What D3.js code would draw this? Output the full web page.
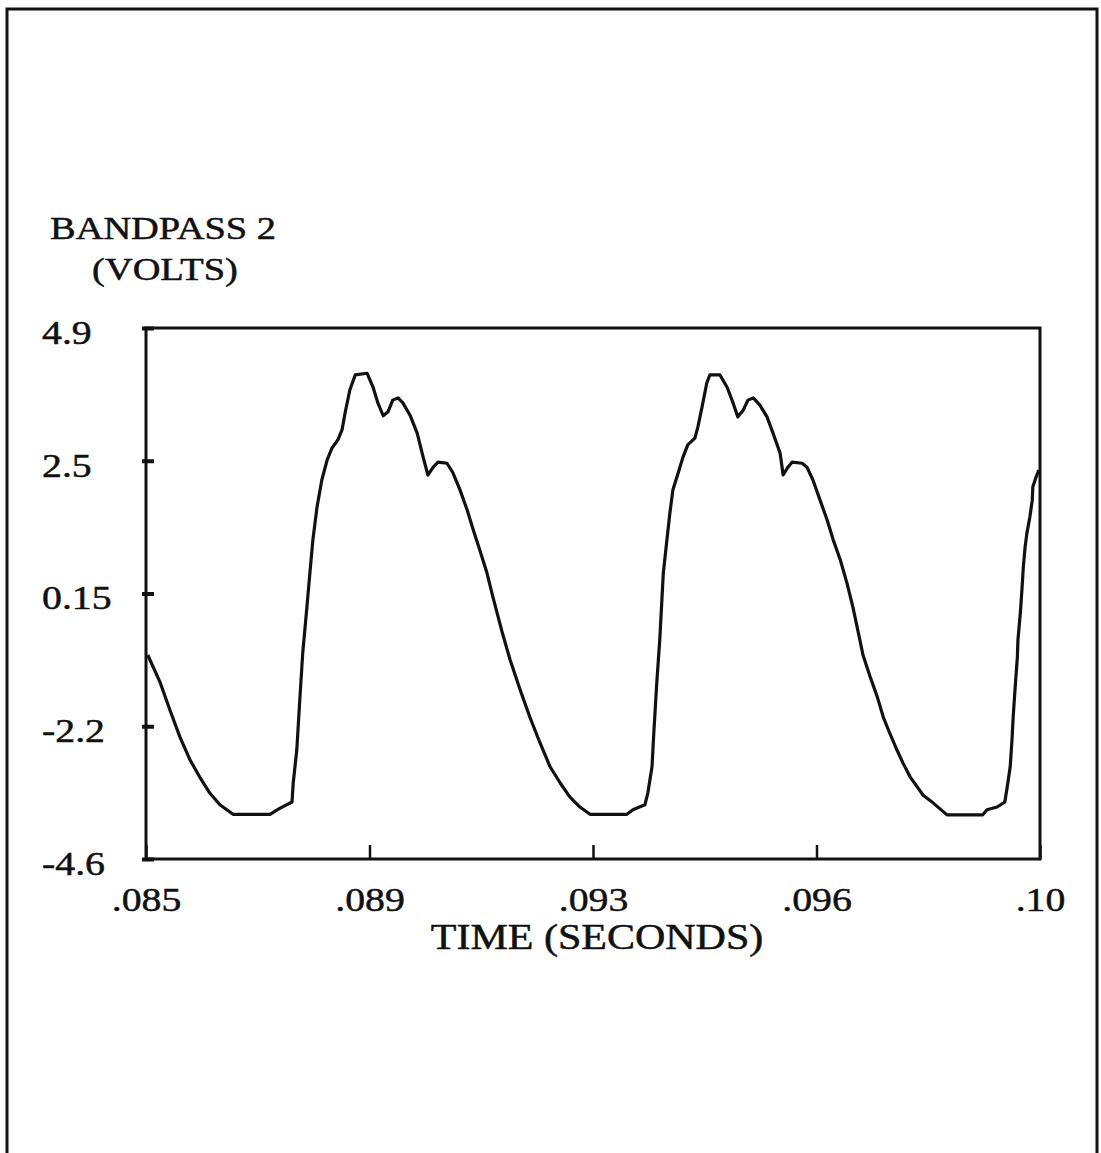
<!DOCTYPE html>
<html>
<head>
<meta charset="utf-8">
<script src="https://cdn.jsdelivr.net/npm/d3@7"></script>
<style>
  html, body { margin: 0; padding: 0; background: #fff; }
  svg { display: block; }
  text { font-family: "Liberation Serif", "Times New Roman", serif; fill: #111; stroke: #111; stroke-width: 0.5px; }
</style>
</head>
<body>
<svg id="chart" width="1101" height="1153"></svg>
<script>
// ---- data (time in seconds, voltage in volts) ----
const timeSec = [
  0.08503, 0.08524, 0.08540, 0.08557, 0.08574, 0.08591, 0.08607, 0.08624, 0.08646, 0.08708,
  0.08725, 0.08745, 0.08747, 0.08753, 0.08758, 0.08763, 0.08770, 0.08775, 0.08780, 0.08787,
  0.08795, 0.08804, 0.08812, 0.08822, 0.08829, 0.08834, 0.08842, 0.08851, 0.08871, 0.08881,
  0.08889, 0.08898, 0.08906, 0.08914, 0.08923, 0.08931, 0.08943, 0.08955, 0.08965, 0.08973,
  0.08982, 0.08990, 0.09005, 0.09015, 0.09027, 0.09039, 0.09049, 0.09060, 0.09072, 0.09082,
  0.09097, 0.09111, 0.09128, 0.09144, 0.09161, 0.09178, 0.09195, 0.09211, 0.09228, 0.09245,
  0.09307, 0.09317, 0.09337, 0.09342, 0.09349, 0.09352, 0.09357, 0.09362, 0.09368, 0.09374,
  0.09379, 0.09384, 0.09393, 0.09401, 0.09409, 0.09421, 0.09426, 0.09433, 0.09441, 0.09446,
  0.09463, 0.09475, 0.09485, 0.09493, 0.09502, 0.09510, 0.09519, 0.09530, 0.09542, 0.09552,
  0.09564, 0.09569, 0.09577, 0.09584, 0.09601, 0.09609, 0.09619, 0.09631, 0.09643, 0.09653,
  0.09665, 0.09676, 0.09686, 0.09695, 0.09703, 0.09715, 0.09727, 0.09737, 0.09748, 0.09760,
  0.09770, 0.09782, 0.09794, 0.09804, 0.09821, 0.09844, 0.09904, 0.09911, 0.09928, 0.09941,
  0.09945, 0.09950, 0.09953, 0.09955, 0.09958, 0.09962, 0.09963, 0.09967, 0.09970, 0.09972,
  0.09975, 0.09978, 0.09983, 0.09987, 0.09988, 0.09993, 0.09998
];
const voltage = [
  -0.95, -1.45, -1.93, -2.42, -2.83, -3.15, -3.42, -3.63, -3.80, -3.80,
  -3.69, -3.58, -3.24, -2.65, -1.76, -0.91, -0.09, 0.52, 1.11, 1.70,
  2.18, 2.54, 2.75, 2.90, 3.08, 3.38, 3.79, 4.06, 4.09, 3.84,
  3.56, 3.33, 3.40, 3.61, 3.65, 3.56, 3.34, 3.02, 2.59, 2.27,
  2.41, 2.50, 2.48, 2.31, 2.00, 1.64, 1.29, 0.93, 0.52, 0.09,
  -0.52, -1.04, -1.58, -2.06, -2.52, -2.95, -3.24, -3.49, -3.67, -3.80,
  -3.80, -3.72, -3.63, -3.42, -2.95, -2.35, -1.45, -0.68, 0.52, 1.11,
  1.59, 2.00, 2.31, 2.59, 2.81, 2.93, 3.13, 3.49, 3.92, 4.06,
  4.06, 3.84, 3.56, 3.31, 3.43, 3.61, 3.65, 3.52, 3.31, 3.02,
  2.66, 2.27, 2.41, 2.50, 2.48, 2.41, 2.18, 1.82, 1.46, 1.11,
  0.75, 0.34, -0.09, -0.54, -0.95, -1.34, -1.70, -2.06, -2.35, -2.65,
  -2.88, -3.13, -3.31, -3.46, -3.60, -3.81, -3.81, -3.72, -3.67, -3.58,
  -3.31, -2.95, -2.47, -2.06, -1.58, -0.99, -0.68, -0.20, 0.27, 0.62,
  0.98, 1.23, 1.52, 1.82, 2.06, 2.22, 2.36
];
const xDomain = [0.085, 0.10];
const yDomain = [-4.6, 4.9];
const xTickValues = [0.085, 0.08875, 0.0925, 0.09625, 0.10];
const xTickLabels = [".085", ".089", ".093", ".096", ".10"];
const yTickValues = [4.9, 2.525, 0.15, -2.225, -4.6];
const yTickLabels = ["4.9", "2.5", "0.15", "-2.2", "-4.6"];
const yTitle = ["BANDPASS 2", "(VOLTS)"];
const xTitle = "TIME (SECONDS)";

// ---- layout ----
const svg = d3.select("#chart");
const plot = { left: 146, right: 1040, top: 328, bottom: 859 };
const x = d3.scaleLinear().domain(xDomain).range([plot.left, plot.right]);
const y = d3.scaleLinear().domain(yDomain).range([plot.bottom, plot.top]);

svg.append("rect").attr("width", 1101).attr("height", 1153).attr("fill", "#fff");

// outer page frame (bottom edge is cut off in the reference)
svg.append("path")
  .attr("d", "M7,1160 L7,9 L1097,9 L1097,1160")
  .attr("fill", "none").attr("stroke", "#111").attr("stroke-width", 3);

// plot frame
svg.append("rect")
  .attr("x", plot.left).attr("y", plot.top)
  .attr("width", plot.right - plot.left).attr("height", plot.bottom - plot.top)
  .attr("fill", "none").attr("stroke", "#111").attr("stroke-width", 3);

function stretchedText(sel, k) {
  sel.each(function () {
    const w = this.getComputedTextLength();
    d3.select(this).attr("textLength", w * k).attr("lengthAdjust", "spacingAndGlyphs");
  });
}

// x axis (ticks pointing inward)
const xAxis = d3.axisBottom(x).tickValues(xTickValues).tickSizeInner(-14).tickSizeOuter(0)
  .tickFormat((d, i) => xTickLabels[i]).tickPadding(28);
const gx = svg.append("g").attr("transform", `translate(0,${plot.bottom})`).call(xAxis);
gx.select(".domain").remove();
gx.selectAll(".tick line").attr("stroke", "#111").attr("stroke-width", 2.5);
gx.selectAll(".tick text").attr("font-size", 34).attr("fill", "#111")
  .attr("font-family", "Liberation Serif, serif").call(stretchedText, 1.17);

// y axis (ticks straddling the frame, pointing inward)
const yAxis = d3.axisLeft(y).tickValues(yTickValues).tickSizeInner(0).tickSizeOuter(0)
  .tickFormat((d, i) => yTickLabels[i]);
const gy = svg.append("g").attr("transform", `translate(${plot.left},0)`).call(yAxis);
gy.select(".domain").remove();
gy.selectAll(".tick line").attr("x1", -4).attr("x2", 8).attr("stroke", "#111").attr("stroke-width", 4);
gy.selectAll(".tick text")
  .attr("text-anchor", "start").attr("x", 42 - plot.left).attr("dy", "0.45em")
  .attr("font-size", 34).attr("fill", "#111").attr("font-family", "Liberation Serif, serif")
  .call(stretchedText, 1.17);

// y title
svg.append("text").attr("x", 163).attr("y", 239).attr("text-anchor", "middle")
  .attr("font-size", 32).text(yTitle[0]).call(stretchedText, 1.2);
svg.append("text").attr("x", 165).attr("y", 280).attr("text-anchor", "middle")
  .attr("font-size", 32).text(yTitle[1]).call(stretchedText, 1.2);

// x title
svg.append("text").attr("x", 597).attr("y", 949).attr("text-anchor", "middle")
  .attr("font-size", 35).text(xTitle).call(stretchedText, 1.2);

// waveform
const pts = timeSec.map((t, i) => [t, voltage[i]]);
const line = d3.line().x(d => x(d[0])).y(d => y(d[1])).curve(d3.curveLinear);
svg.append("path").datum(pts)
  .attr("d", line)
  .attr("fill", "none").attr("stroke", "#111").attr("stroke-width", 3.2)
  .attr("stroke-linejoin", "round");
</script>
</body>
</html>
